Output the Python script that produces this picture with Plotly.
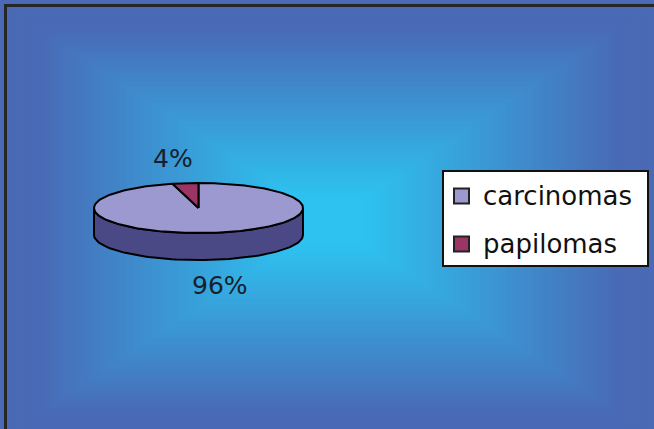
import numpy as np
import plotly.graph_objects as go

# ---- data ----
categories = ["carcinomas", "papilomas"]
values = [96, 4]

# ---- style ----
top_colors = ["#9c99d0", "#9b3566"]
side_colors = ["#4b4886", "#5e1f40"]
W, H = 654, 429
cx, cy, rx, ry, depth = 198.5, 208.0, 104.5, 25.0, 27.0
label_pos = [(220, 285), (173, 158)]
edge_rgb = np.array([74, 106, 182])
center_rgb = np.array([46, 194, 240])

fig = go.Figure()
shapes = []

# background gradient ("from center" rectangular)
gcx, gcy, hw, hh = 329.0, 221.0, 325.0, 216.0
N = 90
for i in range(N, 0, -1):
    t = i / N
    f = np.clip((t - 0.12) / 0.76, 0, 1)
    c = center_rgb + (edge_rgb - center_rgb) * f
    if i == N:
        x0, x1, y0, y1 = 0, W, 0, H
    else:
        x0, x1 = gcx - t * hw * 1.02, gcx + t * hw * 1.02
        y0, y1 = gcy - t * hh * 1.02, gcy + t * hh * 1.02
    shapes.append(dict(type="rect", xref="x", yref="y", layer="below",
                       x0=x0, x1=x1, y0=y0, y1=y1,
                       fillcolor="rgb(%d,%d,%d)" % tuple(c.astype(int)), line=dict(width=0)))
# dark frame on top and left
shapes.append(dict(type="line", xref="x", yref="y", x0=5.5, x1=5.5, y0=4, y1=H, line=dict(color="#262626", width=3)))
shapes.append(dict(type="line", xref="x", yref="y", x0=4, x1=W, y0=5.5, y1=5.5, line=dict(color="#262626", width=3)))

# ---- 3D pie from values ----
total = sum(values)
# slices run clockwise from 12 o'clock; the last slice ends at 12 o'clock
ranges = []
a = 90.0
for v in values[::-1]:
    b = a + 360.0 * v / total
    ranges.append((a, b))
    a = b
ranges = ranges[::-1]


def ell(t_deg, dy=0.0):
    t = np.radians(t_deg)
    return cx + rx * np.cos(t), cy - ry * np.sin(t) + dy


# sides (visible front half: 180..360 mod 360)
for i, (a0, a1) in enumerate(ranges):
    for k in (0, 360):
        lo = max(a0, 180 + k)
        hi = min(a1, 360 + k)
        if hi > lo:
            ts = np.linspace(lo, hi, 80)
            xt, yt = ell(ts)
            xb, yb = ell(ts[::-1], depth)
            xs = np.concatenate([xt, xb, xt[:1]])
            ys = np.concatenate([yt, yb, yt[:1]])
            fig.add_trace(go.Scatter(x=xs, y=ys, mode="lines", fill="toself",
                                     fillcolor=side_colors[i], line=dict(color="black", width=2),
                                     hoverinfo="skip", showlegend=False))
# tops
for i, (a0, a1) in enumerate(ranges):
    ts = np.linspace(a0, a1, 200)
    xe, ye = ell(ts)
    xs = np.concatenate([[cx], xe, [cx]])
    ys = np.concatenate([[cy], ye, [cy]])
    fig.add_trace(go.Scatter(x=xs, y=ys, mode="lines", fill="toself",
                             fillcolor=top_colors[i], line=dict(color="black", width=2),
                             hoverinfo="skip", showlegend=False))

annotations = []
for i, v in enumerate(values):
    annotations.append(dict(x=label_pos[i][0], y=label_pos[i][1], xref="x", yref="y",
                            text="%d%%" % round(100 * v / total), showarrow=False,
                            font=dict(family="DejaVu Sans", size=25, color="#15202c"),
                            xanchor="center", yanchor="middle"))

# ---- legend ----
lx0, ly0, lx1, ly1 = 443, 171, 648, 266
shapes.append(dict(type="rect", xref="x", yref="y", x0=lx0, x1=lx1, y0=ly0, y1=ly1,
                   fillcolor="white", line=dict(color="#111111", width=2)))
row_y = [196, 244]
for i, name in enumerate(categories):
    shapes.append(dict(type="rect", xref="x", yref="y", x0=454, x1=469,
                       y0=row_y[i] - 7.5, y1=row_y[i] + 7.5,
                       fillcolor=top_colors[i], line=dict(color="#222222", width=2)))
    annotations.append(dict(x=481, y=row_y[i], xref="x", yref="y", text=name, showarrow=False,
                            font=dict(family="DejaVu Sans", size=26, color="#111111"),
                            xanchor="left", yanchor="middle"))

fig.update_layout(
    width=W, height=H, autosize=False,
    margin=dict(l=0, r=0, t=0, b=0),
    paper_bgcolor="white", plot_bgcolor="white",
    xaxis=dict(range=[0, W], visible=False, fixedrange=True),
    yaxis=dict(range=[H, 0], visible=False, fixedrange=True),
    shapes=shapes, annotations=annotations, showlegend=False,
)
fig.write_html("out.html")
